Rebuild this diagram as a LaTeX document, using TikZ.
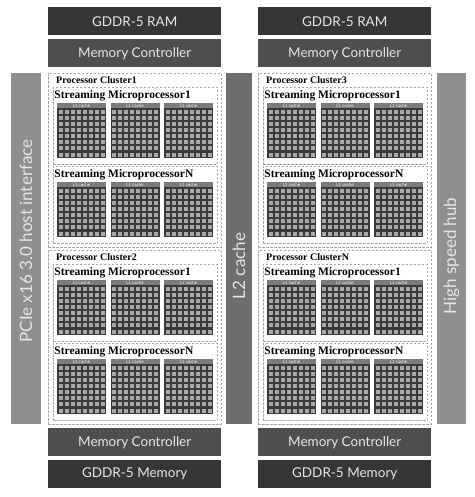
\documentclass[tikz,border=0pt]{standalone}
\usepackage{fontspec}
\setmainfont{Liberation Serif}
\newfontfamily\boxfont{Lato}
\newfontfamily\tinyfont{Liberation Sans}
\definecolor{ramcol}{HTML}{363636}
\definecolor{mccol}{HTML}{4E4E4E}
\definecolor{sidecol}{HTML}{8F8F8F}
\definecolor{ltwocol}{HTML}{6E6E6E}
\definecolor{boxtext}{HTML}{E6E6E6}
\definecolor{lonecol}{HTML}{7B7B7B}
\definecolor{griddark}{HTML}{3A3A3A}
\definecolor{gridlight}{HTML}{A8A8A8}
\definecolor{dashcol}{HTML}{A6A6A6}
\tikzset{
  membox/.style={anchor=north west, minimum width=173pt, minimum height=28pt, inner sep=0pt,
    text=boxtext, font=\boxfont\fontsize{13.5}{14}\selectfont},
  ramstyle/.style={membox, fill=ramcol},
  mcstyle/.style={membox, fill=mccol},
  barstyle/.style={anchor=north west, inner sep=0pt},
  bartext/.style={rotate=90, text=boxtext, inner sep=0pt, font=\boxfont\fontsize{17}{18}\selectfont},
  dashbox/.style={anchor=north west, draw=dashcol, dash pattern=on 2.5pt off 1.5pt, line width=0.8pt, inner sep=0pt},
  clustertitle/.style={anchor=west, inner sep=0pt, font=\bfseries\fontsize{10}{11}\selectfont},
  smtitle/.style={anchor=west, inner sep=0pt, font=\bfseries\fontsize{11.5}{12}\selectfont},
  lonetext/.style={inner sep=0pt, text=white!90!gray, font=\tinyfont\fontsize{4.3}{4.5}\selectfont},
}
% block: #1 x, #2 y (top of L1 bar), #3 name
\newcommand\cacheblock[3]{%
  \fill[lonecol] (#1,#2) rectangle ++(49,5.2);
  \node[lonetext] (#3) at (#1+24.5,#2+2.7) {L1 cache};
  \fill[griddark] (#1,#2+5.2) rectangle ++(49,50);
  \foreach \i in {0,...,7}{\foreach \j in {0,...,7}{%
    \fill[gridlight] (#1+1.5+\i*6.05,#2+5.2+1.5+\j*6.12) rectangle ++(4.0,4.0);}}%
}
% SM unit: #1 x left, #2 y top, #3 title, #4 name
\newcommand\smunit[4]{%
  \node[dashbox, minimum width=164pt, minimum height=77pt] (#4) at (#1,#2) {};
  \node[smtitle] (#4t) at (#1+1.2,#2+8.5) {#3};
  \cacheblock{#1+4}{#2+16}{#4a}
  \cacheblock{#1+57.5}{#2+16}{#4b}
  \cacheblock{#1+111}{#2+16}{#4c}
}
% cluster: #1 x left, #2 y top, #3 title, #4 name
\newcommand\cluster[4]{%
  \node[dashbox, minimum width=173pt, minimum height=174pt] (#4) at (#1,#2) {};
  \node[clustertitle] (#4t) at (#1+8,#2+7.5) {#3};
  \smunit{#1+5}{#2+14}{Streaming Microprocessor1}{#4s}
  \smunit{#1+5}{#2+93}{Streaming MicroprocessorN}{#4n}
}
\begin{document}
\begin{tikzpicture}[x=1pt,y=-1pt]
\useasboundingbox (0,0) rectangle (474,497);
\fill[white] (0,0) rectangle (474,497);
% top memory
\node[ramstyle] (ramA) at (48,7) {GDDR-5 RAM};
\node[mcstyle] (mcA) at (48,39) {Memory Controller};
\node[ramstyle] (ramB) at (258,7) {GDDR-5 RAM};
\node[mcstyle] (mcB) at (258,39) {Memory Controller};
% bottom memory
\node[mcstyle] (mcC) at (48,428) {Memory Controller};
\node[ramstyle] (ramC) at (48,460) {GDDR-5 Memory};
\node[mcstyle] (mcD) at (258,428) {Memory Controller};
\node[ramstyle] (ramD) at (258,460) {GDDR-5 Memory};
% bars
\node[barstyle, fill=sidecol, minimum width=30pt, minimum height=351pt] (pcie) at (11,73) {};
\node[bartext] (pciet) at (26,241) {PCIe x16 3.0 host interface};
\node[barstyle, fill=ltwocol, minimum width=26pt, minimum height=351pt] (ltwo) at (226,73) {};
\node[bartext] (ltwot) at (239,266) {L2 cache};
\node[barstyle, fill=sidecol, minimum width=29pt, minimum height=351pt] (hub) at (437,73) {};
\node[bartext] (hubt) at (451.5,256) {High speed hub};
% clusters
\cluster{48}{73}{Processor Cluster1}{pa}
\cluster{48}{250}{Processor Cluster2}{pb}
\cluster{258}{73}{Processor Cluster3}{pc}
\cluster{258}{250}{Processor ClusterN}{pd}
\end{tikzpicture}
\end{document}
